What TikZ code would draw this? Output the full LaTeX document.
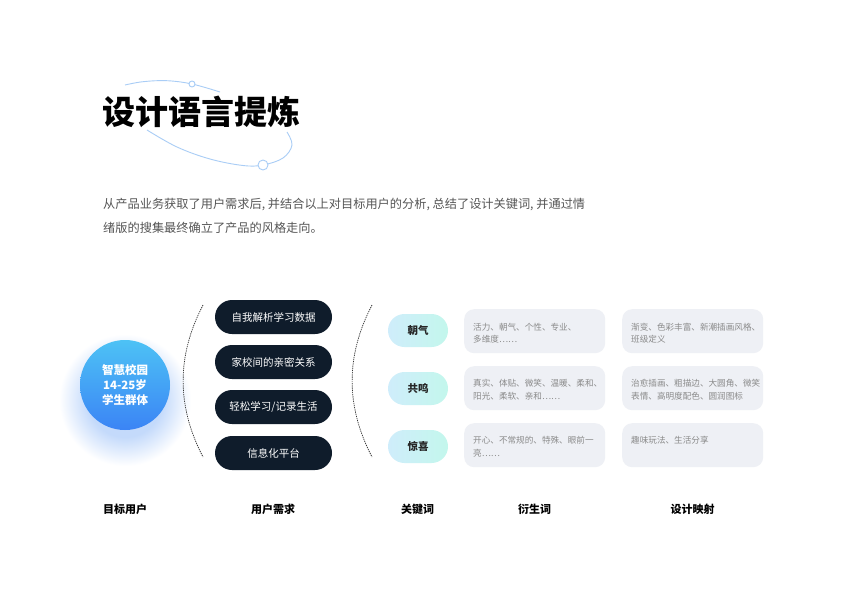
\documentclass[tikz,border=0pt]{standalone}
\usepackage{fontspec}
\setmainfont{Noto Sans CJK SC}
\definecolor{navy}{HTML}{0F1C2B}
\definecolor{ellblue}{HTML}{A9CDF6}
\definecolor{boxgray}{HTML}{EEF0F5}
\definecolor{txtgray}{HTML}{8A8A8A}
\definecolor{paragray}{HTML}{555555}
\definecolor{circtop}{HTML}{4DC2F5}
\definecolor{circbot}{HTML}{3B84F5}
\definecolor{kwleft}{HTML}{CFEDFB}
\definecolor{kwright}{HTML}{C3F7EC}
\definecolor{glowc}{HTML}{C4DAFB}
\definecolor{dashc}{HTML}{333333}
\pgfdeclareradialshading{glowshade}{\pgfpoint{0bp}{0bp}}{color(0bp)=(glowc); color(14bp)=(glowc); color(25bp)=(white); color(50bp)=(white)}
\begin{document}
\begin{tikzpicture}[x=1pt,y=-1pt,
  needpill/.style={fill=navy, rounded corners=17pt, minimum width=117pt, minimum height=34pt, text=white, font=\fontsize{10.5}{12}\selectfont, inner sep=0pt},
  kwpill/.style={rounded corners=16.5pt, minimum width=60pt, minimum height=33pt, left color=kwleft, right color=kwright, text=black!85, font=\bfseries\fontsize{10.5}{12}\selectfont, inner sep=0pt},
  infobox/.style={fill=boxgray, rounded corners=10pt, minimum width=141pt, minimum height=44pt, inner sep=0pt, anchor=north west},
  infotext/.style={text=txtgray, font=\fontsize{8.6}{12.5}\selectfont, align=left, anchor=west, inner sep=0pt},
  collabel/.style={font=\bfseries\fontsize{11}{13}\selectfont, text=black, inner sep=0pt},
  arcline/.style={draw=dashc, line width=0.7pt, dash pattern=on 1.3pt off 0.9pt},
  ellline/.style={draw=ellblue, line width=0.9pt}]
\useasboundingbox[fill=white] (0,0) rectangle (843,600);

% title ellipse
\draw[ellline] plot[smooth, tension=0.6] coordinates {(125,85) (143,81.7) (167,80.7) (192,84) (220,92)};
\draw[ellline] plot[smooth, tension=0.6] coordinates {(147,130) (177,147) (210,159) (243,165.5) (263,165) (283,158) (292,145) (287,132)};
\draw[ellline, fill=white] (192,84) circle (3pt);
\draw[ellline, fill=white] (263,165) circle (5pt);
\node[anchor=west, inner sep=0pt, font=\bfseries\fontsize{33}{36}\selectfont] (title) at (102,112) {设计语言提炼};

% paragraph
\node[anchor=west, inner sep=0pt, text=paragray, font=\fontsize{12.2}{14}\selectfont] (p1) at (103,205) {从产品业务获取了用户需求后, 并结合以上对目标用户的分析, 总结了设计关键词, 并通过情};
\node[anchor=west, inner sep=0pt, text=paragray, font=\fontsize{12.2}{14}\selectfont] (p2) at (103,228) {绪版的搜集最终确立了产品的风格走向。};

% user circle
\shade[shading=glowshade] (125,400) circle (66pt);
\node[circle, minimum size=90pt, inner sep=0pt, top color=circtop, bottom color=circbot, text=white, align=center, font=\bfseries\fontsize{11.5}{15}\selectfont] (user) at (125,385) {智慧校园\\14-25岁\\学生群体};

% dashed arcs
\coordinate (a1s) at (203,305); \coordinate (a1e) at (203,457);
\coordinate (a2s) at (372,305); \coordinate (a2e) at (372,457);
\draw[arcline] (a1s) .. controls (176.5,356) and (176.5,406) .. (a1e);
\draw[arcline] (a2s) .. controls (345.5,356) and (345.5,406) .. (a2e);

% needs
\node[needpill] (n1) at (273.5,317) {自我解析学习数据};
\node[needpill] (n2) at (273.5,362) {家校间的亲密关系};
\node[needpill] (n3) at (273.5,407) {轻松学习/记录生活};
\node[needpill] (n4) at (273.5,453) {信息化平台};

% keywords
\node[kwpill] (k1) at (418,330.5) {朝气};
\node[kwpill] (k2) at (418,388.5) {共鸣};
\node[kwpill] (k3) at (418,446.5) {惊喜};

% derived words
\node[infobox] (d1) at (464,309) {};
\node[infobox] (d2) at (464,366) {};
\node[infobox] (d3) at (464,423) {};
\node[infotext] (d1t) at (473,333) {活力、朝气、个性、专业、\\多维度……};
\node[infotext] (d2t) at (473,389.5) {真实、体贴、微笑、温暖、柔和、\\阳光、柔软、亲和……};
\node[infotext] (d3t) at (473,446.5) {开心、不常规的、特殊、眼前一\\亮……};

% mapping
\node[infobox] (m1) at (622,309) {};
\node[infobox] (m2) at (622,366) {};
\node[infobox] (m3) at (622,423) {};
\node[infotext] (m1t) at (631,333) {渐变、色彩丰富、新潮插画风格、\\班级定义};
\node[infotext] (m2t) at (631,389.5) {治愈插画、粗描边、大圆角、微笑\\表情、高明度配色、圆润图标};
\node[infotext] (m3t) at (631,440.5) {趣味玩法、生活分享};

% column labels
\node[collabel, anchor=west] (c1) at (103,509) {目标用户};
\node[collabel] (c2) at (273,509) {用户需求};
\node[collabel] (c3) at (417.5,509) {关键词};
\node[collabel] (c4) at (534.5,509) {衍生词};
\node[collabel] (c5) at (692.5,509) {设计映射};
\end{tikzpicture}
\end{document}
